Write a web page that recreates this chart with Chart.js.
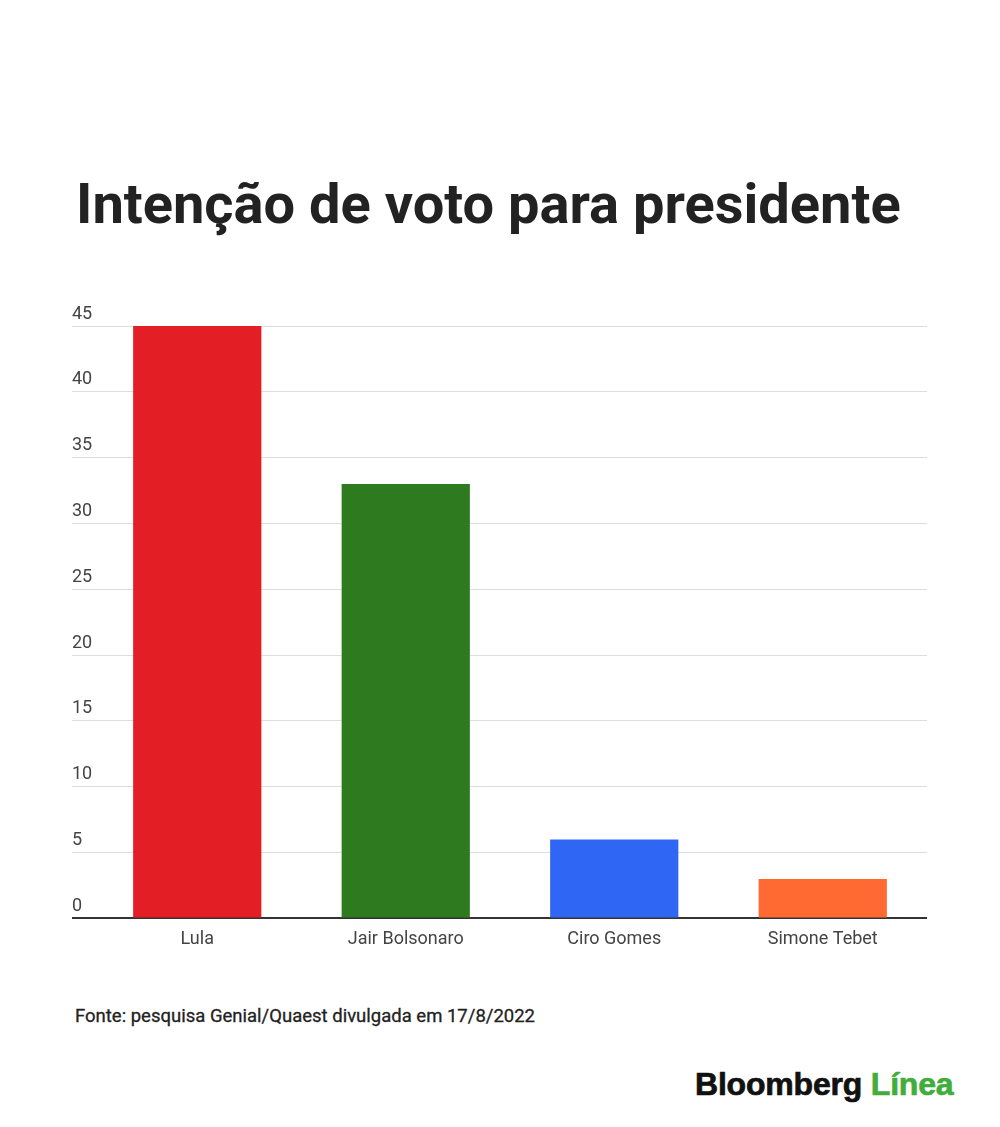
<!DOCTYPE html>
<html>
<head>
<meta charset="utf-8">
<script src="https://cdn.jsdelivr.net/npm/chart.js@4"></script>
<style>
  html, body { margin: 0; padding: 0; background: #fff; }
  body { width: 1000px; height: 1127px; position: relative; overflow: hidden; font-family: Roboto, sans-serif; }
  #title { position: absolute; left: 76px; top: 171px; margin: 0; font-size: 56px; font-weight: 700; color: #222; white-space: nowrap; }
  #chartBox { position: absolute; left: 0; top: 300px; width: 1000px; height: 680px; }
  #source { position: absolute; left: 75px; top: 1005px; font-size: 18.5px; font-weight: 400; color: #222; white-space: nowrap; -webkit-text-stroke: 0.3px #222; }
  #logo { position: absolute; left: 695px; top: 1066px; font-family: "Liberation Sans", Arial, sans-serif; font-size: 32px; font-weight: 700; letter-spacing: -0.2px; white-space: nowrap; -webkit-text-stroke: 0.7px; }
  #logo .b { color: #111; }
  #logo .l { color: #3fae3a; }
</style>
</head>
<body>
<h1 id="title">Intenção de voto para presidente</h1>
<div id="chartBox"><canvas id="voteChart"></canvas></div>
<div id="source">Fonte: pesquisa Genial/Quaest divulgada em 17/8/2022</div>
<div id="logo"><span class="b">Bloomberg</span> <span class="l">Línea</span></div>

<script>
// dados da pesquisa
const candidates = ['Lula', 'Jair Bolsonaro', 'Ciro Gomes', 'Simone Tebet'];
const votes = [45, 33, 6, 3];
const barColors = ['#e31e25', '#2e7a1f', '#2f66f4', '#ff6a33'];
const yTicks = [0, 5, 10, 15, 20, 25, 30, 35, 40, 45];

const ctx = document.getElementById('voteChart').getContext('2d');

new Chart(ctx, {
    type: 'bar',
    data: {
        labels: candidates,
        datasets: [{
            data: votes,
            backgroundColor: barColors,
            barPercentage: 0.615,
            categoryPercentage: 1
        }]
    },
    options: {
        responsive: true,
        maintainAspectRatio: false,
        animation: false,
        layout: {
            padding: { left: 72, right: 73, top: 26, bottom: 20 }
        },
        plugins: {
            legend: { display: false },
            tooltip: { enabled: false }
        },
        scales: {
            x: {
                grid: { display: false, drawTicks: false },
                border: { display: false },
                ticks: {
                    color: '#444',
                    padding: 10,
                    font: { family: 'Roboto', size: 18 }
                }
            },
            y: {
                min: 0,
                max: 45,
                afterFit: axis => { axis.width = 21; },
                afterBuildTicks: axis => {
                    axis.ticks = yTicks.map(v => ({ value: v }));
                },
                border: { display: false },
                grid: {
                    tickLength: 21,
                    color: c => c.tick && c.tick.value === 0 ? '#333' : '#dedede',
                    lineWidth: c => c.tick && c.tick.value === 0 ? 2 : 1
                },
                ticks: {
                    crossAlign: 'far',
                    padding: 0,
                    labelOffset: -12,
                    color: '#444',
                    font: { family: 'Roboto', size: 18 }
                }
            }
        }
    }
});
</script>
</body>
</html>
